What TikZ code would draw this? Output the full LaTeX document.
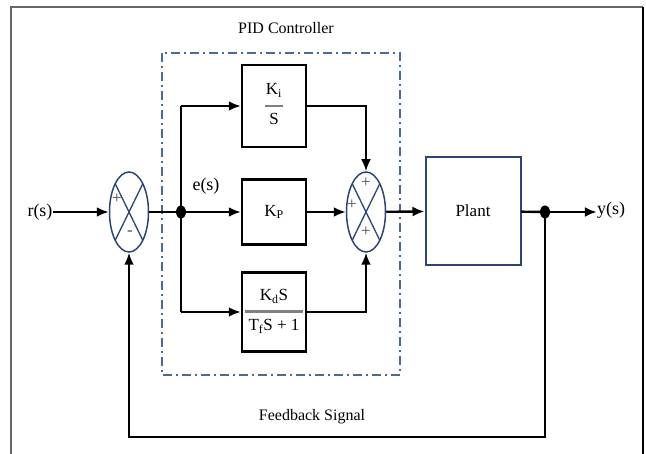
\documentclass[tikz,border=0pt]{standalone}
\usepackage{fontspec}
\setmainfont{Liberation Serif}
\usetikzlibrary{arrows.meta,shapes.geometric}
\definecolor{navy}{HTML}{2B4470}
\definecolor{dashblue}{HTML}{4D6A94}
\begin{document}
\begin{tikzpicture}[x=1pt,y=-1pt,
  conn/.style={line width=2.4pt,-{Latex[length=12pt,width=10pt]}},
  wire/.style={line width=2.4pt},
  blk/.style={draw,line width=2.5pt,minimum width=64pt,inner sep=0pt,font=\fontsize{17}{18}\selectfont},
  sumj/.style={draw=navy,line width=1.5pt,ellipse,minimum width=39pt,minimum height=80pt,inner sep=0pt},
  lbl/.style={font=\fontsize{16}{18}\selectfont,inner sep=0pt},
  sig/.style={font=\fontsize{18}{20}\selectfont,inner sep=0pt},
  sgn/.style={font=\fontsize{17}{17}\selectfont,inner sep=0pt,text=black!70},
  jdot/.style={ellipse,fill,inner sep=0pt,minimum width=10pt,minimum height=13pt},
  xline/.style={draw=navy,line width=1.3pt}
]
\useasboundingbox (0,0) rectangle (646,454);
% frame
\draw[black!60,line width=1.6pt] (11,454) -- (11,7) -- (643,7);
\draw[line width=1.6pt] (643,7) -- (643,454);
% PID dash-dot box
\draw[dashblue,line width=1.8pt,dash pattern=on 9pt off 4pt on 2pt off 4pt] (162,53) rectangle (400,375);

% nodes
\node[sig] (rs) at (40,212) {r(s)};
\node[sumj] (s1) at (129,212) {};
\node[jdot] (j1) at (181,212) {};
\node[blk,minimum height=82pt] (ki) at (274,106)
  {\begin{tabular}{@{}c@{}}K\textsubscript{i}\\[-3pt]{\color{gray}\rule[3pt]{18pt}{1.6pt}}\\[-3pt] S\end{tabular}};
\node[blk,minimum height=65pt] (kp) at (274,212) {K\textsubscript{P}};
\node[blk,minimum height=79pt] (kd) at (274,312)
  {\begin{tabular}{@{}c@{}}K\textsubscript{d}S\\[-3pt]{\color{gray}\rule[3pt]{58pt}{2.2pt}}\\[-3pt] T\textsubscript{f}S + 1\end{tabular}};
\node[sumj] (s2) at (366,212) {};
\node[draw=navy,line width=2pt,minimum width=95pt,minimum height=108pt,inner sep=0pt,font=\fontsize{17}{18}\selectfont] (plant) at (473,211) {Plant};
\node[jdot] (j2) at (545,212) {};
\node[sig] (ys) at (611,210) {y(s)};
\node[sig] (es) at (206,186) {e(s)};
\node[lbl] (pid) at (286,28) {PID Controller};
\node[lbl] (fb) at (312,417) {Feedback Signal};

% signs
\node[sgn] (p1) at (117,199) {+};
\node[sgn] (m1) at (130,233) {-};
\node[sgn] (p2t) at (366,183) {+};
\node[sgn] (p2l) at (352,205) {+};
\node[sgn] (p2b) at (366,232) {+};

% X lines in summing junctions
\draw[xline] ([shift={(-13.8,-28.3)}]s1.center) -- ([shift={(13.8,28.3)}]s1.center);
\draw[xline] ([shift={(13.8,-28.3)}]s1.center) -- ([shift={(-13.8,28.3)}]s1.center);
\draw[xline] ([shift={(-13.8,-28.3)}]s2.center) -- ([shift={(13.8,28.3)}]s2.center);
\draw[xline] ([shift={(13.8,-28.3)}]s2.center) -- ([shift={(-13.8,28.3)}]s2.center);

% coordinates
\coordinate (c1) at (181,106);
\coordinate (c2) at (181,312);
\coordinate (f1) at (545,437);
\coordinate (f2) at (129,437);

% connectors
\draw[conn] (rs.east |- s1.west) -- (s1.west);
\draw[wire] (s1) -- (j1);
\draw[wire] (c1) -- (c2);
\draw[conn] (c1) -- (ki);
\draw[conn] (j1) -- (kp);
\draw[conn] (c2) -- (kd);
\draw[conn] (ki.east) -| (s2.north);
\draw[conn] (kp) -- (s2);
\draw[conn] (kd.east) -| (s2.south);
\draw[conn] (s2) -- (plant);
\draw[wire] (plant) -- (j2);
\draw[conn] (j2) -- (ys.west |- j2.center);
\draw[conn] (j2.center) -- (f1) -- (f2) -- (s1.south);
\end{tikzpicture}
\end{document}
